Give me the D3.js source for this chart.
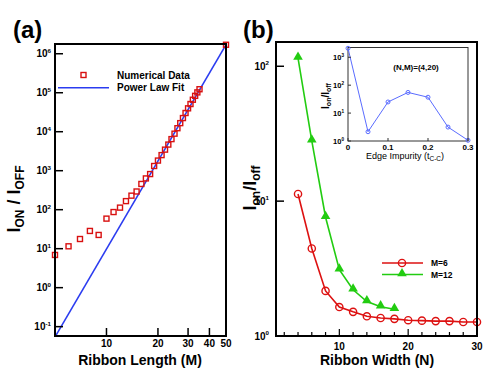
<!DOCTYPE html>
<html lang="en">
	<head>
		<meta charset="UTF-8" />
		<title>Ion/Ioff</title>
		<style>
			body { margin: 0; background: #fff; }
			svg { font-family: 'Liberation Sans', Arial, sans-serif; font-weight: bold; }
		</style>
	</head>
	<body>
		<div id="chart"></div>
		<script src="https://cdnjs.cloudflare.com/ajax/libs/d3/7.8.5/d3.min.js"></script>
		<script>
			// panel (a): ratio vs ribbon length
			var lengthM = [5, 6, 7, 8, 9, 10, 11, 12, 13, 14, 15, 16, 17, 18, 19, 20, 21, 22, 23, 24, 25, 26, 27, 28, 29, 30, 31, 32, 33, 34, 35, 50];
			var ratioNumerical = [6.9, 11.5, 17.7, 28.5, 22.5, 59, 87, 113, 166, 229, 293, 457, 634, 820, 1320, 1820, 2510, 3470, 4680, 6460, 8910, 12300, 16600, 22400, 30200, 39800, 51300, 66100, 83200, 102000, 123000, 1700000];
			var fitExponent = 7.5;
			var fitLogCoef = -6.51;
			var lengthTicks = [10, 20, 30, 40, 50];
			var ratioTicksA = [-1, 0, 1, 2, 3, 4, 5, 6];

			// panel (b): ratio vs ribbon width
			var widthN6 = [4, 6, 8, 10, 12, 14, 16, 18, 20, 22, 24, 26, 28, 30];
			var ratioM6 = [11.3, 4.46, 2.16, 1.64, 1.51, 1.4, 1.36, 1.34, 1.31, 1.3, 1.29, 1.29, 1.27, 1.27];
			var widthN12 = [4, 6, 8, 10, 12, 14, 16, 18];
			var ratioM12 = [115, 28, 7.6, 3.1, 2.2, 1.8, 1.65, 1.58];
			var widthTicks = [10, 20, 30];
			var ratioTicksB = [0, 1, 2];

			// inset: ratio vs edge impurity
			var impurity = [0, 0.05, 0.1, 0.15, 0.2, 0.25, 0.3];
			var ratioImpurity = [2100, 2.15, 25, 55, 37, 3.15, 1.06];
			var impurityTicks = [0, 0.1, 0.2, 0.3];
			var ratioTicksInset = [0, 1, 2, 3];

			var svg = d3.select('#chart').append('svg').attr('width', 491).attr('height', 379);

			function pow10(sel, e, size) {
				sel.append('tspan').text('10');
				sel.append('tspan')
					.attr('dy', -size * 0.45)
					.style('font-size', size * 0.62 + 'px')
					.text(e);
			}

			// ---------- panel (a)
			var ax = d3.scaleLog().domain([5, 50]).range([55, 226]);
			var ay = d3.scaleLog().domain([Math.pow(10, -1.24), Math.pow(10, 6.25)]).range([336, 44]);

			svg.append('clipPath').attr('id', 'clipA')
				.append('rect').attr('x', 55).attr('y', 44).attr('width', 171).attr('height', 292);

			var fitLine = d3.line()
				.x(function (d) { return ax(d); })
				.y(function (d) { return ay(Math.pow(10, fitLogCoef + fitExponent * Math.log10(d))); });
			svg.append('path')
				.datum(ax.domain())
				.attr('d', fitLine)
				.attr('clip-path', 'url(#clipA)')
				.attr('fill', 'none')
				.attr('stroke', '#2b3cf0')
				.attr('stroke-width', 1.5);

			svg.selectAll('.sq')
				.data(lengthM)
				.enter()
				.append('rect')
				.attr('class', 'sq')
				.attr('x', function (d) { return ax(d) - 2.5; })
				.attr('y', function (d, i) { return ay(ratioNumerical[i]) - 2.5; })
				.attr('width', 5)
				.attr('height', 5)
				.attr('fill', 'none')
				.attr('stroke', '#d81010')
				.attr('stroke-width', 1.4);

			svg.selectAll('.xta')
				.data(lengthTicks)
				.enter()
				.append('line')
				.attr('x1', ax).attr('x2', ax)
				.attr('y1', 336).attr('y2', 328)
				.attr('stroke', '#000').attr('stroke-width', 1.5);
			svg.selectAll('.xla')
				.data(lengthTicks)
				.enter()
				.append('text')
				.attr('x', ax)
				.attr('y', 347)
				.attr('text-anchor', 'middle')
				.style('font-size', '10px')
				.text(function (d) { return d; });

			ratioTicksA.forEach(function (e) {
				var y = ay(Math.pow(10, e));
				svg.append('line')
					.attr('x1', 55).attr('x2', 63)
					.attr('y1', y).attr('y2', y)
					.attr('stroke', '#000').attr('stroke-width', 1.5);
				svg.append('text')
					.attr('x', 51)
					.attr('y', y + 3.5)
					.attr('text-anchor', 'end')
					.style('font-size', '10px')
					.call(pow10, e, 10);
			});

			svg.append('rect')
				.attr('x', 55).attr('y', 44).attr('width', 171).attr('height', 292)
				.attr('fill', 'none').attr('stroke', '#000').attr('stroke-width', 2);

			// legend (a)
			svg.append('rect')
				.attr('x', 81).attr('y', 72.5).attr('width', 5).attr('height', 5)
				.attr('fill', 'none').attr('stroke', '#d81010').attr('stroke-width', 1.4);
			svg.append('line')
				.attr('x1', 58).attr('x2', 109).attr('y1', 87.7).attr('y2', 87.7)
				.attr('stroke', '#2b3cf0').attr('stroke-width', 1.5);
			svg.append('text').attr('x', 117).attr('y', 78.5).style('font-size', '10px').text('Numerical Data');
			svg.append('text').attr('x', 117).attr('y', 91).style('font-size', '10px').text('Power Law Fit');

			svg.append('text').attr('x', 140).attr('y', 365).attr('text-anchor', 'middle')
				.style('font-size', '14px').text('Ribbon Length (M)');

			var labA = svg.append('text')
				.attr('transform', 'translate(20,199) rotate(-90)')
				.attr('text-anchor', 'middle')
				.style('font-size', '18px');
			labA.append('tspan').text('I');
			labA.append('tspan').attr('dy', 4).style('font-size', '12px').text('ON');
			labA.append('tspan').attr('dy', -4).text(' / I');
			labA.append('tspan').attr('dy', 4).style('font-size', '12px').text('OFF');

			svg.append('text').attr('x', 13).attr('y', 38).style('font-size', '24px').text('(a)');

			// ---------- panel (b)
			var bx = d3.scaleLinear().domain([0.8, 30]).range([276, 477]);
			var by = d3.scaleLog().domain([1, Math.pow(10, 2.18)]).range([336, 42]);

			var lineB = d3.line()
				.x(function (d) { return bx(d[0]); })
				.y(function (d) { return by(d[1]); });

			var s6 = widthN6.map(function (d, i) { return [d, ratioM6[i]]; });
			var s12 = widthN12.map(function (d, i) { return [d, ratioM12[i]]; });

			svg.append('path').datum(s6).attr('d', lineB)
				.attr('fill', 'none').attr('stroke', '#dd1111').attr('stroke-width', 1.6);
			svg.append('path').datum(s12).attr('d', lineB)
				.attr('fill', 'none').attr('stroke', '#22cc11').attr('stroke-width', 1.6);

			svg.selectAll('.c6')
				.data(s6)
				.enter()
				.append('circle')
				.attr('cx', function (d) { return bx(d[0]); })
				.attr('cy', function (d) { return by(d[1]); })
				.attr('r', 3.6)
				.attr('fill', 'none')
				.attr('stroke', '#dd1111')
				.attr('stroke-width', 1.4);

			var tri = d3.symbol().type(d3.symbolTriangle).size(40);
			svg.selectAll('.t12')
				.data(s12)
				.enter()
				.append('path')
				.attr('d', tri)
				.attr('transform', function (d) { return 'translate(' + bx(d[0]) + ',' + (by(d[1]) - 1) + ')'; })
				.attr('fill', '#22cc11');

			var minorB = d3.range(2, 30, 2);
			svg.selectAll('.xtb')
				.data(minorB)
				.enter()
				.append('line')
				.attr('x1', bx).attr('x2', bx)
				.attr('y1', 336)
				.attr('y2', function (d) { return d % 10 === 0 ? 329 : 332; })
				.attr('stroke', '#000').attr('stroke-width', 1.2);
			svg.selectAll('.xlb')
				.data(widthTicks)
				.enter()
				.append('text')
				.attr('x', bx)
				.attr('y', 350)
				.attr('text-anchor', 'middle')
				.style('font-size', '10px')
				.text(function (d) { return d; });

			ratioTicksB.forEach(function (e) {
				var y = by(Math.pow(10, e));
				svg.append('line')
					.attr('x1', 276).attr('x2', 284)
					.attr('y1', y).attr('y2', y)
					.attr('stroke', '#000').attr('stroke-width', 1.5);
				svg.append('text')
					.attr('x', 269)
					.attr('y', y + 3.5)
					.attr('text-anchor', 'end')
					.style('font-size', '10px')
					.call(pow10, e, 10);
			});

			svg.append('rect')
				.attr('x', 276).attr('y', 42).attr('width', 201).attr('height', 294)
				.attr('fill', 'none').attr('stroke', '#000').attr('stroke-width', 2);

			// legend (b)
			svg.append('line').attr('x1', 382).attr('x2', 423).attr('y1', 263).attr('y2', 263)
				.attr('stroke', '#dd1111').attr('stroke-width', 1.6);
			svg.append('circle').attr('cx', 402).attr('cy', 263).attr('r', 3.6)
				.attr('fill', 'none').attr('stroke', '#dd1111').attr('stroke-width', 1.4);
			svg.append('line').attr('x1', 382).attr('x2', 423).attr('y1', 274.5).attr('y2', 274.5)
				.attr('stroke', '#22cc11').attr('stroke-width', 1.6);
			svg.append('path').attr('d', tri).attr('transform', 'translate(402,273.5)').attr('fill', '#22cc11');
			svg.append('text').attr('x', 431).attr('y', 266).style('font-size', '8.5px').text('M=6');
			svg.append('text').attr('x', 431).attr('y', 277.5).style('font-size', '8.5px').text('M=12');

			svg.append('text').attr('x', 377).attr('y', 365).attr('text-anchor', 'middle')
				.style('font-size', '14px').text('Ribbon Width (N)');

			var labB = svg.append('text')
				.attr('transform', 'translate(256,188) rotate(-90)')
				.attr('text-anchor', 'middle')
				.style('font-size', '18px');
			labB.append('tspan').text('I');
			labB.append('tspan').attr('dy', 4).style('font-size', '12px').text('on');
			labB.append('tspan').attr('dy', -4).text('/I');
			labB.append('tspan').attr('dy', 4).style('font-size', '12px').text('off');

			svg.append('text').attr('x', 243).attr('y', 38).style('font-size', '24px').text('(b)');

			// ---------- inset
			var ix = d3.scaleLinear().domain([0, 0.3]).range([348, 468]);
			var iy = d3.scaleLog().domain([1, Math.pow(10, 3.35)]).range([141, 47.5]);

			svg.append('rect')
				.attr('x', 348).attr('y', 47.5).attr('width', 120).attr('height', 93.5)
				.attr('fill', '#fff').attr('stroke', '#333').attr('stroke-width', 1);

			var inset = impurity.map(function (d, i) { return [d, ratioImpurity[i]]; });
			svg.append('path')
				.datum(inset)
				.attr('d', d3.line()
					.x(function (d) { return ix(d[0]); })
					.y(function (d) { return iy(d[1]); }))
				.attr('fill', 'none').attr('stroke', '#5a6cff').attr('stroke-width', 1);
			svg.selectAll('.ci')
				.data(inset)
				.enter()
				.append('circle')
				.attr('cx', function (d) { return ix(d[0]); })
				.attr('cy', function (d) { return iy(d[1]); })
				.attr('r', 2)
				.attr('fill', 'none').attr('stroke', '#5a6cff').attr('stroke-width', 1);

			impurityTicks.forEach(function (d) {
				svg.append('line')
					.attr('x1', ix(d)).attr('x2', ix(d)).attr('y1', 141).attr('y2', 138)
					.attr('stroke', '#333');
				svg.append('text')
					.attr('x', ix(d)).attr('y', 150)
					.attr('text-anchor', 'middle')
					.style('font-size', '8px')
					.text(d);
			});
			ratioTicksInset.forEach(function (e) {
				var y = iy(Math.pow(10, e));
				svg.append('line')
					.attr('x1', 348).attr('x2', 351).attr('y1', y).attr('y2', y)
					.attr('stroke', '#333');
				svg.append('text')
					.attr('x', 344).attr('y', y + 3)
					.attr('text-anchor', 'end')
					.style('font-size', '7.5px')
					.call(pow10, e, 7.5);
			});

			svg.append('text').attr('x', 416).attr('y', 69.5).attr('text-anchor', 'middle')
				.style('font-size', '8px').text('(N,M)=(4,20)');

			var labI = svg.append('text')
				.attr('x', 405).attr('y', 158.5)
				.attr('text-anchor', 'middle')
				.style('font-size', '9px')
				.style('font-weight', 'normal');
			labI.append('tspan').text('Edge Impurity (t');
			labI.append('tspan').attr('dy', 2).style('font-size', '6.5px').text('C-C');
			labI.append('tspan').attr('dy', -2).text(')');

			var labIy = svg.append('text')
				.attr('transform', 'translate(329,96) rotate(-90)')
				.attr('text-anchor', 'middle')
				.style('font-size', '10px');
			labIy.append('tspan').text('I');
			labIy.append('tspan').attr('dy', 2).style('font-size', '7px').text('on');
			labIy.append('tspan').attr('dy', -2).text('/I');
			labIy.append('tspan').attr('dy', 2).style('font-size', '7px').text('off');
		</script>
	</body>
</html>
